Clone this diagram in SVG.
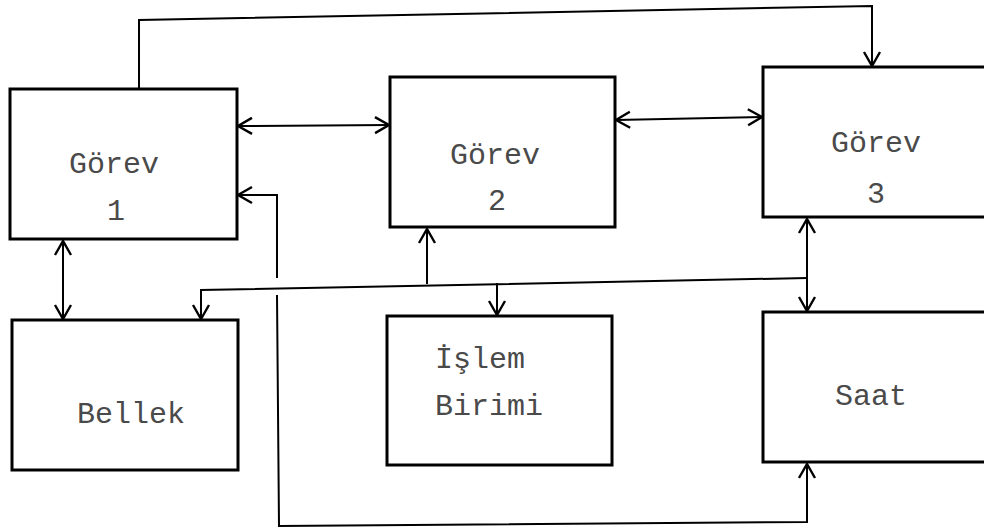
<svg xmlns="http://www.w3.org/2000/svg" width="984" height="531" viewBox="0 0 984 531">
  <style>
    .box { fill: #ffffff; stroke: #000000; stroke-width: 3; }
    .wire { fill: none; stroke: #000000; stroke-width: 2; stroke-linejoin: miter; }
    .lbl { font-family: "Liberation Mono", "DejaVu Sans Mono", monospace; font-size: 30px; fill: #4a4a4a; }
    .mid { text-anchor: middle; }
  </style>
  <defs>
    <!-- open V arrowhead used at every connector end -->
    <marker id="arrow" markerUnits="userSpaceOnUse" markerWidth="18" markerHeight="20" viewBox="0 0 18 20" refX="16" refY="10" orient="auto-start-reverse">
      <path d="M2,2 L16,10 L2,18" fill="none" stroke="#000000" stroke-width="2.4"/>
    </marker>
  </defs>

  <rect width="984" height="531" fill="#ffffff"/>

  <!-- connectors -->
  <g id="connectors">
    <!-- Görev 1 to Görev 3 over the top -->
    <polyline class="wire" points="139,89 139,20 872,6 872,66" marker-end="url(#arrow)"/>
    <!-- Görev 1 <-> Görev 2 -->
    <line class="wire" x1="238" y1="126" x2="389" y2="125" marker-start="url(#arrow)" marker-end="url(#arrow)"/>
    <!-- Görev 2 <-> Görev 3 -->
    <line class="wire" x1="616" y1="120" x2="762" y2="117" marker-start="url(#arrow)" marker-end="url(#arrow)"/>
    <!-- Görev 1 <-> Bellek -->
    <line class="wire" x1="63" y1="241" x2="63" y2="319" marker-start="url(#arrow)" marker-end="url(#arrow)"/>
    <!-- Saat loop back to Görev 1 (broken where it crosses the bus) -->
    <polyline class="wire" points="277,278 277,195 238,195" marker-end="url(#arrow)"/>
    <polyline class="wire" points="277,295 279,526 807,522 807,464" marker-end="url(#arrow)"/>
    <!-- shared bus -->
    <polyline class="wire" points="807,278 201,290 201,319" marker-end="url(#arrow)"/>
    <line class="wire" x1="427" y1="284" x2="427" y2="229" marker-end="url(#arrow)"/>
    <line class="wire" x1="497" y1="283" x2="497" y2="315" marker-end="url(#arrow)"/>
    <line class="wire" x1="807" y1="219" x2="807" y2="311" marker-start="url(#arrow)" marker-end="url(#arrow)"/>
  </g>

  <!-- nodes -->
  <g id="gorev1">
    <rect class="box" x="10" y="89" width="227" height="150"/>
    <text class="lbl mid" x="114" y="173">Görev</text>
    <text class="lbl mid" x="116" y="220">1</text>
  </g>
  <g id="gorev2">
    <rect class="box" x="390" y="77" width="225" height="150"/>
    <text class="lbl mid" x="495" y="164">Görev</text>
    <text class="lbl mid" x="497" y="210">2</text>
  </g>
  <g id="gorev3">
    <rect class="box" x="763" y="67" width="240" height="150"/>
    <text class="lbl mid" x="876" y="152">Görev</text>
    <text class="lbl mid" x="876" y="203">3</text>
  </g>
  <g id="bellek">
    <rect class="box" x="12" y="320" width="226" height="150"/>
    <text class="lbl mid" x="131" y="423">Bellek</text>
  </g>
  <g id="islem-birimi">
    <rect class="box" x="387" y="316" width="225" height="149"/>
    <text class="lbl" x="435" y="368">İşlem</text>
    <text class="lbl" x="435" y="415">Birimi</text>
  </g>
  <g id="saat">
    <rect class="box" x="763" y="312" width="240" height="150"/>
    <text class="lbl mid" x="871" y="405">Saat</text>
  </g>
</svg>
